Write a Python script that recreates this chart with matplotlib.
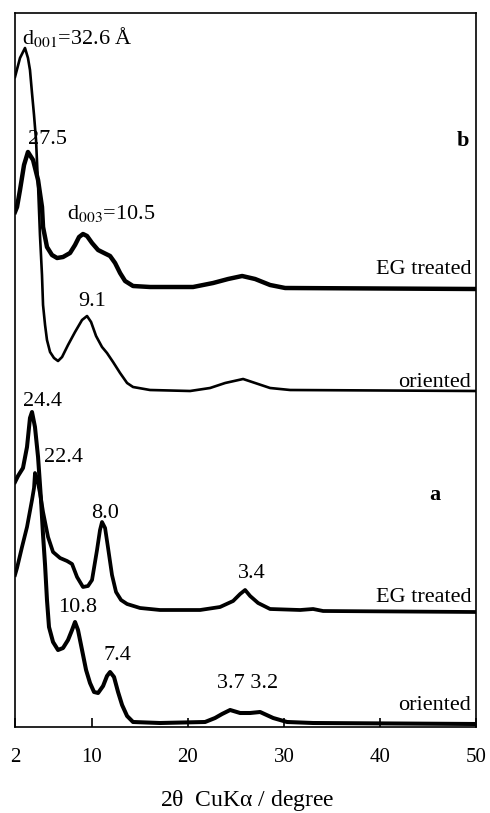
import matplotlib
matplotlib.use('Agg')
import matplotlib.pyplot as plt

plt.rcParams['font.family'] = ['Liberation Serif', 'DejaVu Serif']
plt.rcParams['mathtext.fontset'] = 'stix'

# sample (b), EG treated
b_eg_2theta = [2.0, 2.21, 2.52, 2.94, 3.35, 3.88, 4.40, 4.81, 4.92, 5.33, 5.85, 6.38, 7.0, 7.73,
               8.25, 8.67, 9.08, 9.50, 10.02, 10.65, 11.27, 11.90, 12.42, 12.94, 13.46, 14.29,
               16.06, 20.54, 22.63, 24.19, 25.65, 27.0, 28.56, 30.13, 50.0]
b_eg_int = [77, 82, 99, 124, 137, 129, 109, 82, 62, 42, 34, 31, 32, 36,
            44, 52, 55, 53, 46, 39, 36, 33, 26, 16, 8, 3,
            2, 2, 6, 10, 13, 10, 4, 1, 0]

# sample (b), oriented
b_or_2theta = [2.0, 2.52, 3.04, 3.35, 3.56, 3.77, 3.98, 4.19, 4.40, 4.60, 4.81, 4.92, 5.13,
               5.33, 5.65, 6.06, 6.48, 6.90, 7.52, 8.25, 8.98, 9.50, 9.92, 10.44, 11.06, 11.58,
               12.21, 12.94, 13.67, 14.29, 16.06, 20.23, 22.31, 23.88, 25.75, 27.0, 28.56,
               30.65, 50.0]
b_or_int = [314, 333, 343, 333, 321, 298, 276, 251, 206, 156, 116, 86, 66,
            51, 39, 33, 30, 34, 46, 59, 71, 75, 69, 55, 44, 38,
            29, 18, 8, 4, 1, 0, 3, 8, 12, 8, 3,
            1, 0]

# sample (a), EG treated
a_eg_2theta = [2.0, 2.21, 2.73, 3.25, 3.77, 3.98, 4.08, 4.29, 4.60, 4.92, 5.44, 5.96, 6.69,
               7.42, 7.94, 8.46, 9.08, 9.60, 10.02, 10.54, 10.85, 11.06, 11.38, 11.69, 12.10,
               12.52, 13.04, 13.67, 15.02, 17.10, 21.27, 23.35, 24.71, 25.44, 25.96, 26.48,
               27.31, 28.56, 31.69, 33.04, 34.08, 50.0]
a_eg_int = [37, 44, 65, 85, 112, 124, 139, 134, 119, 100, 75, 60, 54,
            51, 48, 35, 25, 26, 32, 62, 82, 90, 84, 64, 37,
            20, 12, 8, 4, 2, 2, 5, 11, 18, 22, 16,
            9, 3, 2, 3, 1, 0]

# sample (a), oriented
a_or_2theta = [2.0, 2.31, 2.83, 3.25, 3.56, 3.77, 4.08, 4.40, 4.71, 4.92, 5.13, 5.33, 5.54,
               5.96, 6.48, 7.0, 7.52, 7.94, 8.25, 8.56, 8.98, 9.40, 9.81, 10.23, 10.65, 11.17,
               11.58, 11.90, 12.31, 12.73, 13.15, 13.67, 14.29, 17.10, 21.79, 22.83, 23.56,
               24.40, 25.44, 26.48, 27.52, 28.88, 30.33, 33.04, 50.0]
a_or_int = [242, 248, 256, 277, 306, 312, 297, 267, 224, 189, 159, 124, 97,
            82, 74, 76, 84, 94, 102, 94, 74, 54, 41, 32, 31, 38,
            48, 52, 47, 32, 19, 8, 2, 1, 2, 6, 10,
            14, 11, 11, 12, 6, 2, 1, 0]

offsets = {'b_eg': 438, 'b_or': 336, 'a_eg': 115, 'a_or': 3}

fig = plt.figure(figsize=(4.9, 8.13), dpi=100)
ax = fig.add_axes([15/490, 1 - 727/813, 461/490, 714/813])

ax.plot(b_eg_2theta, [v + offsets['b_eg'] for v in b_eg_int], color='black', lw=3.2)
ax.plot(b_or_2theta, [v + offsets['b_or'] for v in b_or_int], color='black', lw=1.9)
ax.plot(a_eg_2theta, [v + offsets['a_eg'] for v in a_eg_int], color='black', lw=2.7)
ax.plot(a_or_2theta, [v + offsets['a_or'] for v in a_or_int], color='black', lw=2.9)

ax.set_xlim(2, 50)
ax.set_ylim(0, 714)
ax.set_yticks([])
ax.set_xticks([2, 10, 20, 30, 40, 50])
ax.set_xticklabels(['2', '10', '20', '30', '40', '50'])
ax.tick_params(axis='x', direction='in', length=6.5, width=1.2, labelsize=15, pad=15)
for s in ax.spines.values():
    s.set_linewidth(1.2)

fig.text(247/490, 1 - 800/813, r'2$\mathregular{\theta}$  CuK$\mathregular{\alpha}$ / degree',
         fontsize=17, ha='center', va='center')


def px(x, y):
    # pixel position in the picture -> data coordinates
    return 2 + (x - 15) / 9.604, 727 - y


fs = 16
ax.text(*px(22, 37), r'd$_{001}$=32.6 Å', fontsize=fs, ha='left', va='center')
ax.text(*px(47, 139), '27.5', fontsize=fs, ha='center', va='center')
ax.text(*px(463, 141), 'b', fontsize=fs, ha='center', va='center', fontweight='bold')
ax.text(*px(67, 213), r'd$_{003}$=10.5', fontsize=fs, ha='left', va='center')
ax.text(*px(471, 270), 'EG treated', fontsize=fs, ha='right', va='center')
ax.text(*px(92, 302), '9.1', fontsize=fs, ha='center', va='center')
ax.text(*px(471, 382), 'oriented', fontsize=fs, ha='right', va='center')
ax.text(*px(42, 401), '24.4', fontsize=fs, ha='center', va='center')
ax.text(*px(63, 457), '22.4', fontsize=fs, ha='center', va='center')
ax.text(*px(435, 495), 'a', fontsize=fs, ha='center', va='center', fontweight='bold')
ax.text(*px(105, 514), '8.0', fontsize=fs, ha='center', va='center')
ax.text(*px(252, 573), '3.4', fontsize=fs, ha='center', va='center')
ax.text(*px(471, 598), 'EG treated', fontsize=fs, ha='right', va='center')
ax.text(*px(78, 607), '10.8', fontsize=fs, ha='center', va='center')
ax.text(*px(117, 655), '7.4', fontsize=fs, ha='center', va='center')
ax.text(*px(248, 683), '3.7 3.2', fontsize=fs, ha='center', va='center')
ax.text(*px(471, 705), 'oriented', fontsize=fs, ha='right', va='center')

fig.savefig('out.png', dpi=100)
